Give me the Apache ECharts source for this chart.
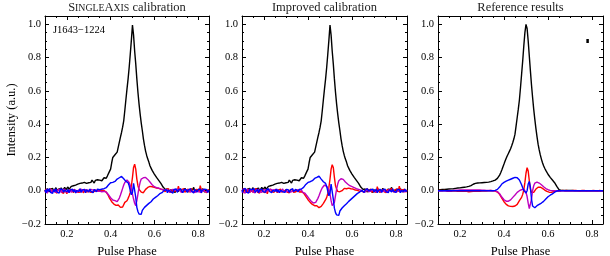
<!DOCTYPE html>
<html><head><meta charset="utf-8">
<script src="https://cdn.jsdelivr.net/npm/echarts@6/dist/echarts.min.js"></script>
<style>html,body{margin:0;padding:0;background:#fff}#c{width:610px;height:256px}</style>
</head><body><div id="c"></div>
<script>
// Pulse phase bins: 0.100 .. 0.850, step 0.005 (151 bins)
const phaseStart = 0.1, phaseStep = 0.005;

// Panel 1/2 total intensity (shared)
const I_obs = [
0.005,-0.008,0.012,0.002,-0.006,0.010,0.000,0.014,-0.004,0.006,
0.018,0.004,-0.005,0.011,0.003,0.016,-0.002,0.008,0.020,0.006,
0.012,0.022,0.008,0.018,0.026,0.014,0.030,0.020,0.034,0.026,
0.040,0.052,0.044,0.056,0.046,0.038,0.050,0.058,0.044,0.054,
0.048,0.060,0.050,0.064,0.054,0.046,0.062,0.056,0.066,0.058,
0.064,0.072,0.060,0.070,0.078,0.066,0.075,0.088,0.100,0.116,
0.130,0.168,0.200,0.208,0.216,0.222,0.232,0.262,0.292,0.322,
0.350,0.382,0.420,0.482,0.548,0.612,0.672,0.742,0.822,0.905,
0.995,0.935,0.840,0.762,0.672,0.592,0.522,0.462,0.408,0.362,
0.312,0.272,0.238,0.212,0.190,0.172,0.150,0.136,0.122,0.110,
0.100,0.092,0.080,0.072,0.062,0.055,0.044,0.036,0.022,0.014,
0.008,-0.004,0.010,0.002,-0.008,0.006,0.012,-0.002,0.004,-0.010,
0.006,0.012,-0.004,0.002,0.010,-0.008,0.004,0.000,0.014,-0.002,
0.008,-0.006,0.004,0.010,-0.002,0.006,0.020,-0.004,0.008,0.002,
-0.006,0.010,0.004,-0.002,0.012,0.000,-0.008,0.006,0.002,-0.004,
0.004];

// Panel 1 (SingleAxis calibration)
const Q_single = [
-0.006,0.010,-0.012,0.004,-0.002,0.012,-0.010,0.002,0.008,-0.006,
0.004,-0.014,0.006,-0.004,0.010,-0.008,0.002,-0.016,0.006,-0.004,
-0.018,0.004,-0.010,0.008,-0.004,0.002,-0.012,0.006,-0.002,-0.008,
0.004,-0.010,0.002,-0.006,0.008,-0.012,0.000,0.006,-0.008,0.002,
-0.004,0.008,-0.010,0.002,-0.006,0.006,-0.002,-0.010,0.004,-0.004,
0.002,-0.008,0.004,-0.006,0.000,-0.010,-0.008,-0.020,-0.030,-0.045,
-0.052,-0.066,-0.072,-0.080,-0.076,-0.088,-0.092,-0.086,-0.096,-0.100,
-0.104,-0.098,-0.092,-0.070,-0.064,-0.060,-0.046,-0.030,-0.010,0.030,
0.080,0.140,0.160,0.130,0.070,0.030,0.008,0.004,-0.008,-0.014,
-0.012,-0.002,0.008,0.012,0.020,0.014,0.026,0.018,0.024,0.016,
0.020,0.012,0.016,0.008,0.014,0.004,0.010,-0.002,0.006,0.000,
-0.006,0.008,-0.002,0.012,-0.008,0.004,-0.010,0.006,0.016,-0.004,
0.010,-0.006,0.028,0.002,-0.008,0.006,-0.004,0.012,-0.010,0.004,
-0.002,0.010,-0.008,0.004,0.014,-0.006,0.002,-0.010,0.008,0.000,
0.006,-0.008,0.030,0.004,-0.006,0.010,-0.004,0.008,-0.012,0.006,
0.002];
const U_single = [
-0.010,0.004,-0.016,0.002,-0.006,0.008,-0.012,0.000,0.006,-0.008,
0.002,-0.010,0.006,-0.004,0.008,-0.012,0.004,-0.002,0.010,-0.006,
0.004,-0.008,0.000,0.006,-0.010,0.004,-0.004,0.008,-0.006,0.002,
-0.008,0.006,-0.002,0.010,-0.006,0.002,0.008,-0.004,0.004,-0.008,
0.002,-0.006,0.008,-0.002,0.004,-0.008,0.006,0.000,-0.004,0.006,
-0.002,0.004,-0.006,0.002,-0.004,0.000,-0.008,-0.016,-0.024,-0.034,
-0.042,-0.050,-0.056,-0.054,-0.060,-0.064,-0.066,-0.058,-0.044,-0.026,
-0.006,0.014,0.034,0.050,0.058,0.064,0.060,0.050,0.032,0.010,
-0.020,-0.050,-0.075,-0.090,-0.060,-0.020,0.020,0.050,0.070,0.080,
0.078,0.086,0.080,0.074,0.068,0.060,0.052,0.046,0.036,0.030,
0.024,0.026,0.018,0.014,0.016,0.008,0.010,0.002,0.006,-0.004,
0.004,-0.008,0.006,-0.002,-0.010,0.004,-0.006,0.008,-0.004,0.002,
-0.008,0.006,-0.002,0.010,-0.006,0.002,-0.010,0.004,-0.002,0.006,
-0.006,0.002,0.008,-0.008,0.004,-0.002,0.006,-0.010,0.002,-0.004,
0.006,-0.006,0.002,-0.012,0.004,0.008,-0.004,0.002,-0.008,0.004,
-0.002];
const V_single = [
0.006,-0.012,0.010,-0.004,0.014,-0.010,0.002,-0.016,0.008,-0.006,
0.012,-0.008,0.004,-0.014,0.010,-0.002,0.008,-0.010,0.004,0.012,
-0.006,0.008,-0.012,0.004,-0.002,0.010,-0.008,0.006,-0.014,0.002,
0.010,-0.006,0.012,-0.010,0.004,-0.004,0.008,-0.012,0.006,0.000,
-0.008,0.010,-0.004,0.006,-0.012,0.008,0.002,-0.006,0.010,-0.002,
0.006,-0.004,0.010,0.002,0.012,0.008,0.018,0.026,0.034,0.044,
0.048,0.054,0.050,0.058,0.056,0.064,0.070,0.066,0.078,0.082,
0.086,0.078,0.072,0.060,0.056,0.050,0.048,0.030,0.000,-0.024,
-0.010,0.045,0.040,-0.040,-0.100,-0.125,-0.140,-0.132,-0.142,-0.118,
-0.112,-0.100,-0.094,-0.088,-0.082,-0.076,-0.070,-0.066,-0.056,-0.050,
-0.044,-0.040,-0.032,-0.030,-0.022,-0.018,-0.010,-0.012,-0.004,0.002,
-0.008,0.006,-0.012,0.004,0.010,-0.006,0.002,-0.014,0.008,-0.004,
0.010,-0.010,0.004,-0.006,0.012,0.000,-0.012,0.006,-0.002,0.008,
-0.010,0.004,-0.006,0.012,-0.002,0.006,-0.014,0.008,0.002,-0.008,
0.006,-0.004,0.010,-0.012,0.004,-0.006,0.010,-0.002,0.006,-0.010,
0.004];

// Panel 2 (Improved calibration)
const Q_improved = [
0.008,-0.004,0.012,-0.010,0.002,-0.006,0.010,-0.012,0.004,-0.002,
-0.010,0.006,-0.004,0.012,-0.008,0.002,-0.014,0.004,0.008,-0.006,
0.002,-0.012,0.006,-0.018,0.004,-0.008,0.010,-0.004,0.002,-0.010,
-0.006,0.008,-0.012,0.004,-0.002,0.010,-0.008,0.002,-0.004,0.006,
0.006,-0.008,0.002,-0.012,0.008,-0.004,0.004,-0.010,0.002,-0.006,
-0.004,0.006,-0.008,0.002,-0.006,-0.010,-0.014,-0.022,-0.034,-0.044,
-0.054,-0.060,-0.070,-0.076,-0.082,-0.084,-0.090,-0.094,-0.090,-0.098,
-0.102,-0.100,-0.094,-0.082,-0.076,-0.068,-0.054,-0.040,-0.016,0.020,
0.070,0.130,0.156,0.140,0.080,0.030,0.010,-0.004,-0.010,-0.006,
-0.010,0.000,0.006,0.014,0.018,0.012,0.022,0.016,0.020,0.012,
0.016,0.010,0.014,0.004,0.010,0.002,0.006,-0.004,0.004,-0.002,
0.006,-0.010,0.004,-0.004,0.012,-0.006,0.002,0.010,-0.008,0.004,
-0.004,0.008,-0.010,0.024,-0.002,0.006,-0.008,0.004,0.010,-0.006,
0.004,-0.012,0.006,-0.002,0.008,-0.004,0.012,0.000,-0.008,0.006,
-0.004,0.010,-0.006,0.028,0.002,-0.010,0.006,-0.002,0.008,-0.008,
0.004];
const U_improved = [
0.006,-0.010,0.002,-0.014,0.008,-0.004,0.004,-0.010,0.000,0.006,
-0.008,0.004,-0.012,0.006,-0.002,0.008,-0.006,0.002,-0.010,0.004,
-0.004,0.006,-0.008,0.002,0.006,-0.006,0.008,-0.002,0.004,-0.008,
0.006,-0.004,0.008,-0.008,0.002,-0.006,0.004,0.010,-0.004,0.002,
-0.006,0.004,-0.002,0.008,-0.008,0.002,-0.004,0.006,0.002,-0.006,
0.004,-0.006,0.002,-0.004,0.006,-0.008,-0.006,-0.014,-0.020,-0.030,
-0.040,-0.048,-0.058,-0.064,-0.070,-0.074,-0.076,-0.070,-0.060,-0.046,
-0.030,-0.012,0.004,0.018,0.028,0.034,0.030,0.026,0.018,0.006,
-0.020,-0.060,-0.090,-0.100,-0.070,-0.030,0.010,0.040,0.060,0.066,
0.072,0.064,0.068,0.056,0.052,0.044,0.040,0.034,0.030,0.022,
0.024,0.016,0.018,0.010,0.012,0.004,0.008,-0.002,0.004,-0.006,
-0.004,0.006,-0.008,0.002,0.008,-0.006,0.004,-0.002,-0.010,0.004,
0.006,-0.004,0.002,-0.008,0.004,0.010,-0.006,0.002,-0.004,0.008,
-0.002,0.006,-0.010,0.004,-0.006,0.002,0.008,-0.004,0.004,-0.008,
0.002,-0.006,0.008,-0.002,-0.010,0.004,0.006,-0.008,0.002,-0.004,
0.002];
const V_improved = [
-0.010,0.008,-0.004,0.014,-0.008,0.004,-0.014,0.010,-0.002,0.006,
-0.006,0.012,-0.010,0.002,0.008,-0.012,0.004,-0.006,0.010,-0.004,
0.008,-0.010,0.004,-0.006,0.012,-0.004,0.006,-0.012,0.002,0.010,
-0.004,0.010,-0.008,0.006,-0.012,0.002,0.010,-0.006,0.004,-0.010,
0.008,-0.002,0.006,-0.010,0.004,-0.006,0.012,-0.004,0.002,0.008,
0.004,-0.006,0.008,0.004,0.010,0.012,0.020,0.030,0.038,0.046,
0.050,0.056,0.054,0.062,0.060,0.068,0.074,0.070,0.080,0.084,
0.088,0.080,0.070,0.062,0.054,0.048,0.044,0.026,-0.004,-0.030,
-0.014,0.040,0.030,-0.050,-0.105,-0.132,-0.145,-0.138,-0.148,-0.122,
-0.116,-0.104,-0.098,-0.090,-0.084,-0.078,-0.072,-0.064,-0.058,-0.052,
-0.046,-0.040,-0.036,-0.028,-0.024,-0.016,-0.012,-0.008,-0.004,0.002,
0.008,-0.010,0.004,-0.006,0.012,-0.002,-0.012,0.006,-0.004,0.010,
-0.008,0.004,0.010,-0.012,0.002,-0.006,0.008,-0.010,0.006,-0.002,
0.010,-0.006,0.002,-0.012,0.006,0.004,-0.008,0.012,-0.004,0.002,
-0.010,0.006,-0.004,0.008,-0.012,0.002,0.006,-0.006,0.010,-0.004,
0.000];

// Panel 3 (Reference results)
const I_ref = [
0.005,0.006,0.006,0.007,0.007,0.008,0.008,0.009,0.009,0.010,
0.010,0.011,0.011,0.012,0.012,0.013,0.014,0.015,0.016,0.016,
0.017,0.018,0.019,0.020,0.021,0.022,0.023,0.024,0.026,0.028,
0.031,0.035,0.039,0.042,0.044,0.045,0.046,0.046,0.047,0.047,
0.048,0.048,0.049,0.050,0.050,0.051,0.052,0.053,0.055,0.057,
0.059,0.061,0.064,0.068,0.074,0.083,0.094,0.108,0.124,0.143,
0.160,0.178,0.195,0.210,0.224,0.238,0.252,0.270,0.290,0.312,
0.340,0.390,0.440,0.490,0.545,0.620,0.700,0.780,0.870,0.950,
1.000,0.975,0.900,0.810,0.720,0.635,0.560,0.490,0.430,0.375,
0.325,0.280,0.245,0.215,0.190,0.168,0.150,0.135,0.122,0.110,
0.099,0.089,0.080,0.072,0.064,0.056,0.048,0.038,0.026,0.014,
0.006,0.003,0.002,0.002,0.002,0.001,0.001,0.001,0.001,0.001,
0.001,0.001,0.001,0.001,0.000,0.000,0.000,0.000,0.000,0.000,
0.000,0.000,0.000,0.000,0.000,0.000,0.000,0.000,0.000,0.000,
0.000,0.000,0.000,0.000,0.000,0.000,0.000,0.000,0.000,0.000,
0.000];
const Q_ref = [
0.000,-0.002,0.001,-0.003,0.000,-0.002,0.002,-0.001,-0.003,0.000,
-0.002,0.001,-0.004,-0.001,0.000,-0.003,-0.002,0.001,-0.004,-0.002,
-0.003,-0.006,-0.002,-0.005,-0.003,-0.007,-0.004,-0.002,-0.006,-0.003,
-0.005,-0.002,-0.004,-0.006,-0.003,-0.001,-0.004,-0.002,-0.003,0.000,
-0.002,0.001,-0.001,0.000,-0.002,0.001,0.000,-0.001,0.001,0.000,
-0.001,0.000,-0.002,-0.004,-0.008,-0.014,-0.022,-0.032,-0.044,-0.056,
-0.066,-0.075,-0.082,-0.087,-0.091,-0.093,-0.094,-0.095,-0.095,-0.094,
-0.092,-0.088,-0.082,-0.072,-0.060,-0.050,-0.040,-0.022,0.005,0.050,
0.105,0.138,0.118,0.060,0.010,-0.010,-0.016,-0.010,0.000,0.010,
0.017,0.021,0.022,0.021,0.018,0.014,0.009,0.004,0.000,-0.004,
-0.007,-0.009,-0.010,-0.010,-0.008,-0.006,-0.004,-0.002,-0.001,0.000,
0.001,-0.002,0.000,0.002,-0.001,0.000,-0.003,0.001,0.000,-0.001,
0.002,0.000,-0.002,0.001,0.000,0.002,-0.001,0.000,0.001,-0.002,
0.000,0.001,-0.001,0.002,0.000,-0.002,0.001,0.000,0.003,-0.001,
0.000,0.002,-0.001,0.000,0.001,-0.002,0.000,0.002,0.000,-0.001,
0.000];
const U_ref = [
0.000,0.001,0.000,-0.001,0.000,0.001,0.000,0.000,-0.001,0.000,
0.001,0.000,0.000,0.001,0.002,0.002,0.003,0.003,0.003,0.004,
0.004,0.004,0.005,0.005,0.005,0.005,0.005,0.005,0.005,0.005,
0.005,0.005,0.005,0.005,0.005,0.005,0.004,0.004,0.004,0.004,
0.003,0.003,0.003,0.002,0.002,0.002,0.001,0.001,0.001,0.000,
0.000,0.000,-0.001,-0.002,-0.005,-0.010,-0.018,-0.028,-0.038,-0.047,
-0.054,-0.059,-0.063,-0.064,-0.063,-0.060,-0.055,-0.048,-0.040,-0.032,
-0.026,-0.018,-0.010,-0.004,0.000,0.004,0.006,0.009,0.010,0.004,
-0.010,-0.035,-0.075,-0.108,-0.100,-0.050,0.000,0.030,0.045,0.051,
0.052,0.050,0.046,0.041,0.036,0.030,0.024,0.018,0.013,0.009,
0.006,0.004,0.002,0.001,0.000,0.000,0.000,0.000,0.000,0.000,
0.000,0.000,0.000,0.000,0.000,0.000,0.000,0.000,0.000,0.000,
0.000,0.000,0.000,0.000,0.000,0.000,0.000,0.000,0.000,0.000,
0.000,0.000,0.000,0.000,0.000,0.000,0.000,0.000,0.000,0.000,
0.000,0.000,0.000,0.000,0.000,0.000,0.000,0.000,0.000,0.000,
0.000];
const V_ref = [
0.000,0.000,0.000,0.000,0.000,0.000,0.000,0.000,0.000,0.000,
0.000,0.000,0.000,0.000,0.000,0.000,0.000,0.000,0.000,0.000,
0.000,0.000,0.000,0.000,0.000,0.000,0.000,0.000,0.000,0.000,
0.000,0.000,0.000,0.000,0.000,0.000,0.000,0.000,0.000,0.000,
0.000,0.000,0.000,0.000,0.000,0.000,0.000,0.000,0.000,0.000,
0.000,0.001,0.002,0.004,0.008,0.014,0.022,0.031,0.040,0.046,
0.050,0.054,0.057,0.060,0.063,0.066,0.069,0.072,0.075,0.078,
0.080,0.080,0.078,0.072,0.064,0.052,0.036,0.018,0.002,-0.010,
-0.014,0.000,0.040,0.056,0.020,-0.050,-0.092,-0.104,-0.102,-0.094,
-0.090,-0.086,-0.082,-0.078,-0.074,-0.070,-0.064,-0.058,-0.050,-0.042,
-0.036,-0.031,-0.027,-0.023,-0.019,-0.014,-0.009,-0.005,-0.002,0.000,
0.000,0.000,0.000,0.000,0.000,0.000,0.000,0.000,0.000,0.000,
0.000,0.000,0.000,0.000,0.000,0.000,0.000,0.000,0.000,0.000,
0.000,0.000,0.000,0.000,0.000,0.000,0.000,0.000,0.000,0.000,
0.000,0.000,0.000,0.000,0.000,0.000,0.000,0.000,0.000,0.000,
0.000];

// error bar in panel 3 [phase, low, high]
const errBar = [0.78, 0.888, 0.912];

const xMajorTicks = [0.2, 0.4, 0.6, 0.8];
const yMajorTicks = [-0.2, 0.0, 0.2, 0.4, 0.6, 0.8, 1.0];
const panelTitles = [
  '{a|S}{b|INGLE}{a|A}{b|XIS}{a| calibration}',
  '{a|Improved calibration}',
  '{a|Reference results}'
];
const sourceName = 'J1643\u22121224';
const xName = 'Pulse Phase';
const yName = 'Intensity (a.u.)';

const panels = [
  [I_obs, Q_single, U_single, V_single],
  [I_obs, Q_improved, U_improved, V_improved],
  [I_ref, Q_ref, U_ref, V_ref]
];
const colors = ['#000000', '#ff0000', '#bf00bf', '#0000ff'];

const FONT = 'Liberation Serif';
const phase = I_obs.map((_, i) => +(phaseStart + i * phaseStep).toFixed(3));
const gridPos = [{left: 45, width: 164}, {left: 242, width: 165}, {left: 438, width: 165}];

const grid = gridPos.map(g => ({left: g.left, width: g.width, top: 16, height: 208,
  containLabel: false, outerBoundsMode: 'none'}));
const xAxis = [], yAxis = [], series = [];
const lineC = {color: '#000', width: 1};
const hiddenLine = {show: false, onZero: false};

gridPos.forEach((g, gi) => {
  const xb = {gridIndex: gi, type: 'value', min: 0.1, max: 0.85, interval: 0.05,
    splitLine: {show: false}, axisLine: {show: true, onZero: false, lineStyle: lineC}};
  xAxis.push(Object.assign({}, xb, {position: 'bottom',
    axisTick: {show: true, inside: true, length: 2, lineStyle: lineC},
    axisLabel: {margin: 5, fontFamily: FONT, fontSize: 10.5, color: '#000',
      formatter: v => { const k = Math.round(v * 100); return k % 20 === 0 ? (k / 100).toFixed(1) : ''; }},
    name: xName, nameLocation: 'middle', nameGap: 13,
    nameTextStyle: {fontFamily: FONT, fontSize: 12.5, color: '#000'}}));
  xAxis.push(Object.assign({}, xb, {position: 'bottom', axisLine: hiddenLine,
    axisTick: {show: true, inside: true, length: 4, lineStyle: lineC, customValues: xMajorTicks},
    axisLabel: {show: false}}));
  xAxis.push(Object.assign({}, xb, {position: 'top',
    axisTick: {show: true, inside: true, length: 2, lineStyle: lineC}, axisLabel: {show: false}}));
  xAxis.push(Object.assign({}, xb, {position: 'top', axisLine: hiddenLine,
    axisTick: {show: true, inside: true, length: 4, lineStyle: lineC, customValues: xMajorTicks},
    axisLabel: {show: false}}));

  const yb = {gridIndex: gi, type: 'value', min: -0.2, max: 1.05, interval: 0.05,
    splitLine: {show: false}, axisLine: {show: true, onZero: false, lineStyle: lineC}};
  const yl = Object.assign({}, yb, {position: 'left',
    axisTick: {show: true, inside: true, length: 2, lineStyle: lineC},
    axisLabel: {margin: 4, fontFamily: FONT, fontSize: 10.5, color: '#000',
      formatter: v => { const k = Math.round(v * 100); if (k % 20 !== 0) return '';
        const s = (Math.abs(k) / 100).toFixed(1); return k < 0 ? '\u2212' + s : s; }}});
  if (gi === 0) Object.assign(yl, {name: yName, nameLocation: 'middle', nameGap: 27,
    nameTextStyle: {fontFamily: FONT, fontSize: 12.5, color: '#000'}});
  yAxis.push(yl);
  yAxis.push(Object.assign({}, yb, {position: 'left', axisLine: hiddenLine,
    axisTick: {show: true, inside: true, length: 4, lineStyle: lineC, customValues: yMajorTicks},
    axisLabel: {show: false}}));
  yAxis.push(Object.assign({}, yb, {position: 'right',
    axisTick: {show: true, inside: true, length: 2, lineStyle: lineC}, axisLabel: {show: false}}));
  yAxis.push(Object.assign({}, yb, {position: 'right', axisLine: hiddenLine,
    axisTick: {show: true, inside: true, length: 4, lineStyle: lineC, customValues: yMajorTicks},
    axisLabel: {show: false}}));

  panels[gi].forEach((arr, si) => {
    series.push({type: 'line', xAxisIndex: gi * 4, yAxisIndex: gi * 4, showSymbol: false,
      symbol: 'none', animation: false, silent: true, z: 2 + si,
      lineStyle: {color: colors[si], width: gi === 2 ? 1.4 : 1.4},
      data: arr.map((v, i) => [phase[i], v])});
  });
});

series.push({type: 'line', xAxisIndex: 8, yAxisIndex: 8, symbol: 'none', animation: false,
  lineStyle: {color: '#000', width: 2.5},
  data: [[errBar[0], errBar[1]], [errBar[0], errBar[2]]]});

const graphic = gridPos.map((g, gi) => ({type: 'text', x: g.left + g.width / 2, y: 8,
  style: {text: panelTitles[gi], align: 'center', verticalAlign: 'middle', fill: '#000',
    rich: {a: {fontSize: 12.5, fontFamily: FONT, fill: '#222'},
           b: {fontSize: 9.8, fontFamily: FONT, fill: '#222'}}}}));
graphic.push({type: 'text', x: 53, y: 30, style: {text: sourceName, align: 'left',
  verticalAlign: 'middle', fill: '#000', font: '10.5px "Liberation Serif"'}});

const chart = echarts.init(document.getElementById('c'), null, {renderer: 'canvas'});
chart.setOption({animation: false, backgroundColor: '#fff', grid, xAxis, yAxis, series, graphic});
</script></body></html>
